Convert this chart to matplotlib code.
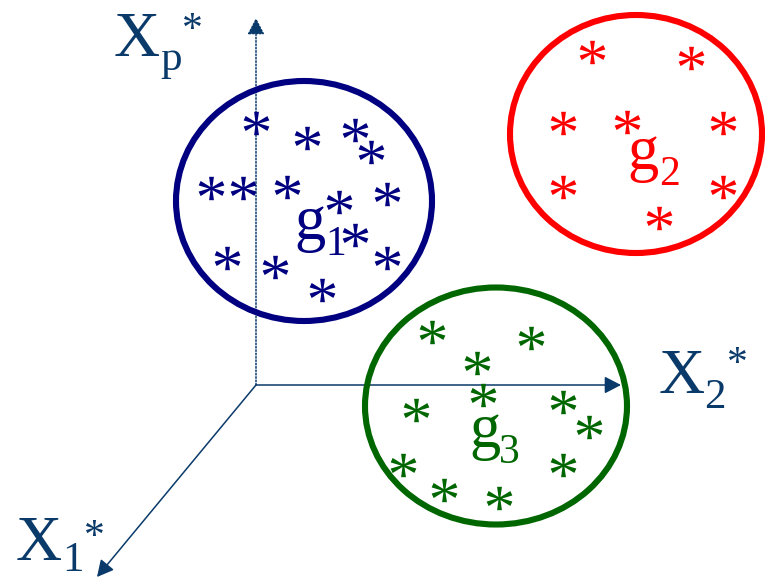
import numpy as np
import matplotlib
matplotlib.use("Agg")
import matplotlib.pyplot as plt
from matplotlib import font_manager
from matplotlib.patches import Ellipse, FancyArrowPatch
from matplotlib.textpath import TextPath
from matplotlib.font_manager import FontProperties
from matplotlib.path import Path

# ---- data (pixel coordinates of the diagram) ----
g1_x = [256, 307, 355, 371, 211, 243, 287, 339, 387, 355, 227, 275, 387, 322]
g1_y = [123, 138, 130, 152, 188, 188, 187, 202, 194, 235, 258, 267, 258, 290]
g2_x = [592, 691, 563, 627, 723, 563, 723, 659]
g2_y = [52, 58, 123, 122, 123, 187, 187, 218]
g3_x = [432, 531, 477, 483, 416, 563, 589, 403, 563, 444, 499]
g3_y = [332, 338, 363, 395, 410, 402, 427, 465, 465, 490, 498]

groups = ["1", "2", "3"]
colors = {"1": "#000080", "2": "#FF0000", "3": "#006600"}
axis_color = "#0A3A6A"

available = {f.name for f in font_manager.fontManager.ttflist}
SERIF = next((n for n in ["Liberation Serif", "Times New Roman", "Tinos",
                          "DejaVu Serif"] if n in available), "serif")
SERIF_FP = FontProperties(family=SERIF)

W, H = 765, 581
fig = plt.figure(figsize=(W / 100, H / 100), dpi=100)
ax = fig.add_axes([0, 0, 1, 1])
ax.set_xlim(0, W)
ax.set_ylim(H, 0)
ax.axis("off")

# asterisk marker built from the serif font glyph
tp = TextPath((0, 0), "*", size=1, prop=SERIF_FP)
verts = tp.vertices.copy()
codes = tp.codes.copy()
for i, c in enumerate(codes):
    if c == Path.CLOSEPOLY:
        verts[i] = verts[i - 1]
ext = Path(verts, codes).get_extents()
verts = verts - [(ext.x0 + ext.x1) / 2, (ext.y0 + ext.y1) / 2]
star = Path(verts, codes)
ms = 18.5

# clusters
ellipses = {"1": (304, 201, 256, 240), "2": (636, 134, 252, 238), "3": (496, 406, 262, 237)}
pts = {"1": (g1_x, g1_y), "2": (g2_x, g2_y), "3": (g3_x, g3_y)}
for g in groups:
    cx, cy, w, h = ellipses[g]
    ax.add_patch(Ellipse((cx, cy), w, h, fill=False, ec=colors[g], lw=4.4, zorder=3))
    xs, ys = pts[g]
    ax.scatter(xs, ys, marker=star, s=ms ** 2, c=colors[g], linewidths=0, zorder=4)

# group labels
glabels = {"1": ((294, 239), (325, 255)), "2": ((627, 169), (659, 185)), "3": ((469, 447), (499, 463))}
for g in groups:
    (gx, gy), (sx, sy) = glabels[g]
    ax.text(gx, gy, "g", fontproperties=SERIF_FP, fontsize=45, color=colors[g],
            ha="left", va="baseline", zorder=5)
    ax.text(sx, sy, g, fontproperties=SERIF_FP, fontsize=30, color=colors[g],
            ha="left", va="baseline", zorder=5)

# axes
origin = (256, 385)
tips = [(256, 18), (621, 385), (97, 577)]
styles = [(0, (1, 1.2)), "-", "-"]
for tip, ls in zip(tips, styles):
    ax.add_patch(FancyArrowPatch(origin, tip, arrowstyle="-|>,head_length=10,head_width=5.2",
                                 mutation_scale=1, lw=1.1, ls=ls, color=axis_color,
                                 shrinkA=0, shrinkB=0, zorder=2))

# axis labels: (main X position, subscript, subscript position, star position)
labels = [((114, 56), "p", (160, 70), (182, 41)),
          ((659, 393), "2", (704, 408), (727, 375)),
          ((16, 560), "1", (62, 571), (84, 548))]
for (xx, xy), sub, (sx, sy), (tx, ty) in labels:
    ax.text(xx, xy, "X", fontproperties=SERIF_FP, fontsize=46, color=axis_color,
            ha="left", va="baseline")
    ax.text(sx, sy, sub, fontproperties=SERIF_FP, fontsize=31, color=axis_color,
            ha="left", va="baseline")
    ax.text(tx, ty, "*", fontproperties=SERIF_FP, fontsize=30, color=axis_color,
            ha="left", va="baseline")

fig.savefig("out.png", dpi=100, facecolor="white")
